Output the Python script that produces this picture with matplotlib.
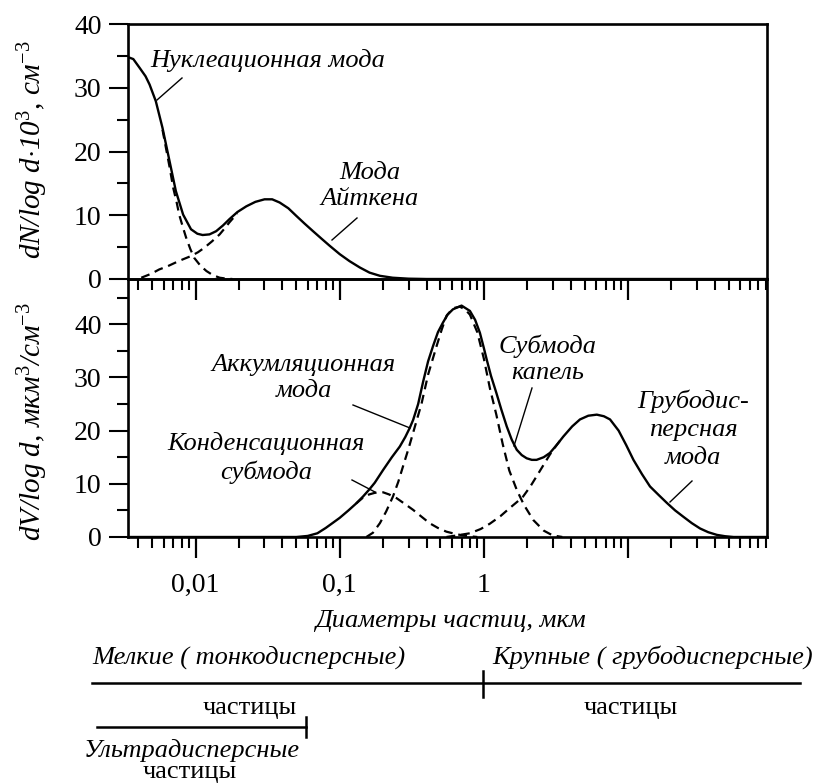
import matplotlib
matplotlib.use("Agg")
import matplotlib.pyplot as plt
from matplotlib.lines import Line2D
from matplotlib.ticker import FixedLocator, FixedFormatter, LogLocator, NullFormatter, MultipleLocator

plt.rcParams["font.family"] = ["Liberation Serif", "DejaVu Serif"]
plt.rcParams["mathtext.fontset"] = "custom"
plt.rcParams["mathtext.rm"] = "Liberation Serif"
plt.rcParams["mathtext.it"] = "Liberation Serif:italic"

W, H = 827, 783

# --- Top panel: number distribution, dN/log d * 10^3 (d in um) ---
num_d = [0.0034, 0.0037, 0.0041, 0.0045, 0.0048, 0.0053, 0.0059, 0.0066, 0.0073,
         0.0082, 0.0093, 0.0103, 0.0112, 0.0125, 0.0139, 0.0155, 0.0172, 0.0195,
         0.0225, 0.026, 0.0301, 0.034, 0.0383, 0.044, 0.050, 0.057, 0.0653, 0.075,
         0.0853, 0.10, 0.117, 0.138, 0.161, 0.19, 0.233, 0.30, 0.40, 92]
num_total = [34.8, 34.5, 33.1, 31.8, 30.5, 27.9, 23.7, 18.5, 13.8,
             10.1, 7.8, 7.1, 6.9, 7.0, 7.5, 8.4, 9.4, 10.5,
             11.4, 12.1, 12.5, 12.5, 12.0, 11.1, 9.9, 8.7, 7.5, 6.3,
             5.2, 3.9, 2.8, 1.8, 1.0, 0.5, 0.2, 0.05, 0, 0]

nucl_d = [0.0059, 0.0066, 0.0070, 0.0074, 0.0077, 0.0082, 0.0086, 0.0092, 0.0098,
          0.0108, 0.0119, 0.0132, 0.0147, 0.0165, 0.018]
nucl = [23.4, 17.6, 14.3, 12.0, 10.1, 8.0, 6.5, 4.7, 3.3, 2.1, 1.25, 0.6, 0.2, 0.05, 0]

aitken_d = [0.0042, 0.0049, 0.0056, 0.0064, 0.0073, 0.0082, 0.0093, 0.0104, 0.0115,
            0.013, 0.0147, 0.016, 0.0172, 0.0195]
aitken = [0.2, 0.8, 1.5, 2.0, 2.6, 3.1, 3.6, 4.2, 4.9, 5.9, 7.0, 8.0, 8.9, 10.3]

# --- Bottom panel: volume distribution, dV/log d ---
vol_d = [0.0034, 0.05, 0.06, 0.07, 0.08, 0.09, 0.10, 0.115, 0.13, 0.145, 0.16, 0.175,
         0.20, 0.23, 0.261, 0.285, 0.306, 0.323, 0.35, 0.379, 0.41, 0.444, 0.48, 0.52,
         0.56, 0.61, 0.70, 0.80, 0.87, 0.938, 1.0, 1.045, 1.12, 1.22, 1.32, 1.44, 1.56,
         1.69, 1.83, 1.98, 2.15, 2.32, 2.6, 2.87, 3.2, 3.56, 4.1, 4.64, 5.3, 6.07, 6.8,
         7.5, 8.6, 9.7, 10.9, 12.5, 14.2, 16.3, 18.6, 21.2, 24.2, 27.7, 31.6, 36, 41.3,
         47, 54, 92]
vol_total = [0, 0, 0.2, 0.7, 1.7, 2.7, 3.6, 5.0, 6.3, 7.6, 8.9, 10.2,
             12.6, 15.0, 17.0, 18.8, 20.5, 22.0, 25.0, 29.2, 33.0, 35.9, 38.5, 40.3,
             41.8, 42.8, 43.5, 42.5, 40.8, 38.4, 35.5, 33.4, 30.3, 27.1, 24.0, 20.8, 18.3,
             16.4, 15.4, 14.8, 14.5, 14.5, 15.0, 15.8, 17.3, 18.9, 20.8, 22.1, 22.8, 23.0, 22.7,
             22.1, 20.0, 17.3, 14.5, 11.8, 9.5, 7.9, 6.4, 5.0, 3.8, 2.6, 1.6, 0.9, 0.4,
             0.15, 0, 0]

cond_d = [0.13, 0.145, 0.16, 0.175, 0.19, 0.20, 0.22, 0.248, 0.28, 0.323, 0.37, 0.42,
          0.48, 0.55, 0.65, 0.76, 0.9]
cond = [6.3, 7.4, 8.0, 8.3, 8.4, 8.4, 8.0, 7.3, 6.3, 5.1, 3.8, 2.6, 1.7, 1.0, 0.5, 0.2, 0]

drop_d = [0.153, 0.17, 0.19, 0.21, 0.234, 0.255, 0.275, 0.30, 0.323, 0.345, 0.369, 0.41,
          0.47, 0.51, 0.551, 0.61, 0.68, 0.74, 0.80, 0.90, 1.0, 1.10, 1.22, 1.35, 1.5,
          1.7, 1.9, 2.2, 2.6, 3.0, 3.5]
drop = [0, 0.8, 2.6, 4.8, 7.6, 10.4, 13.3, 16.6, 19.6, 22.3, 25.0, 30.5,
        35.9, 39.0, 41.6, 43.0, 43.3, 42.8, 41.8, 38.5, 33.5, 28.0, 23.0, 17.5, 12.5,
        8.7, 6.0, 3.2, 1.2, 0.3, 0]

coarse_d = [0.55, 0.65, 0.8, 0.95, 1.1, 1.3, 1.52, 1.7, 1.87, 2.1, 2.32, 2.6, 2.87, 3.2, 3.56]
coarse = [0, 0.3, 0.7, 1.5, 2.5, 3.9, 5.5, 6.6, 7.6, 9.5, 11.4, 13.6, 15.5, 17.3, 18.9]

x_major = [0.01, 0.1, 1, 10]
x_major_labels = ["0,01", "0,1", "1", ""]

XLIM = (0.0034, 92)
SOLID = dict(color="black", lw=1.7, solid_joinstyle="round", solid_capstyle="round")
DASH = dict(color="black", lw=1.6, linestyle=(0, (4, 2.6)))
ANN = dict(fontsize=19, style="italic")


def fx(x):
    return x / W


def fy(y):
    return 1 - y / H


def line(fig, x1, y1, x2, y2, lw=1.0):
    fig.add_artist(Line2D([fx(x1), fx(x2)], [fy(y1), fy(y2)],
                          transform=fig.transFigure, color="black", lw=lw))


def style_axis(ax, ymax):
    ax.set_xscale("log")
    ax.set_xlim(*XLIM)
    ax.set_ylim(0, ymax)
    ax.xaxis.set_major_locator(FixedLocator(x_major))
    ax.xaxis.set_minor_locator(LogLocator(base=10, subs=range(2, 10), numticks=20))
    ax.xaxis.set_minor_formatter(NullFormatter())
    ax.yaxis.set_major_locator(MultipleLocator(10))
    ax.yaxis.set_minor_locator(MultipleLocator(5))
    for s in ax.spines.values():
        s.set_linewidth(1.9)
    ax.tick_params(axis="y", which="major", direction="out", length=14, width=1.5,
                   labelsize=20, pad=5)
    ax.tick_params(axis="y", which="minor", direction="out", length=8, width=1.5)
    ax.tick_params(axis="x", which="major", direction="out", length=15, width=1.6,
                   labelsize=20, pad=11)
    ax.tick_params(axis="x", which="minor", direction="out", length=8, width=1.5)


fig = plt.figure(figsize=(W / 100, H / 100), dpi=100)
left, width = fx(128), (767 - 128) / W
ax_top = fig.add_axes([left, 1 - 279 / H, width, 255 / H])
ax_bot = fig.add_axes([left, 1 - 537 / H, width, 258 / H])
ax_bot.patch.set_visible(False)
ax_top.set_zorder(2)
ax_top.patch.set_visible(False)

style_axis(ax_top, 40)
style_axis(ax_bot, 48.5)
ax_top.xaxis.set_major_formatter(NullFormatter())
ax_bot.xaxis.set_major_formatter(FixedFormatter(x_major_labels))
ax_bot.yaxis.set_major_locator(FixedLocator([0, 10, 20, 30, 40]))

# curves
ax_top.plot(num_d, num_total, **SOLID)
ax_top.plot(nucl_d, nucl, **DASH)
ax_top.plot(aitken_d, aitken, **DASH)

ax_bot.plot(vol_d, vol_total, **SOLID)
ax_bot.plot(cond_d, cond, **DASH)
ax_bot.plot(drop_d, drop, **DASH)
ax_bot.plot(coarse_d, coarse, **DASH)

# y labels
fig.text(fx(33), fy(150), r"dN/log d$\cdot$10$^3$, см$^{-3}$", rotation=90,
         ha="center", va="center", fontsize=21, style="italic")
fig.text(fx(33), fy(422), r"dV/log d, мкм$^3$/см$^{-3}$", rotation=90,
         ha="center", va="center", fontsize=21, style="italic")

# mode labels with leader lines
fig.text(fx(150), fy(60), "Нуклеационная мода", ha="left", va="center", **ANN)
line(fig, 157, 100, 182, 78)
fig.text(fx(370), fy(186), "Мода\nАйткена", ha="center", va="center",
         linespacing=1.25, **ANN)
line(fig, 332, 240, 357, 218)
fig.text(fx(304), fy(378), "Аккумляционная\nмода", ha="center", va="center",
         linespacing=1.25, **ANN)
line(fig, 353, 405, 410, 428)
fig.text(fx(266), fy(458), "Конденсационная\nсубмода", ha="center", va="center",
         linespacing=1.25, **ANN)
line(fig, 352, 480, 375, 492)
fig.text(fx(548), fy(359), "Субмода\nкапель", ha="center", va="center",
         linespacing=1.25, **ANN)
line(fig, 532, 388, 514, 446)
fig.text(fx(693), fy(429), "Грубодис-\nперсная\nмода", ha="center", va="center",
         linespacing=1.35, **ANN)
line(fig, 670, 502, 692, 481)

# size classes under the axis
fig.text(fx(450), fy(621), "Диаметры частиц, мкм", ha="center", va="center", **ANN)
fig.text(fx(92), fy(657), "Мелкие ( тонкодисперсные)", ha="left", va="center", **ANN)
fig.text(fx(492), fy(657), "Крупные ( грубодисперсные)", ha="left", va="center", **ANN)
line(fig, 92, 683, 800, 683, lw=1.8)
line(fig, 483, 671, 483, 697, lw=1.8)
fig.text(fx(250), fy(708), "частицы", ha="center", va="center", fontsize=19)
fig.text(fx(631), fy(708), "частицы", ha="center", va="center", fontsize=19)
line(fig, 97, 727, 306, 727, lw=1.8)
line(fig, 306, 717, 306, 737, lw=1.8)
fig.text(fx(192), fy(750), "Ультрадисперсные", ha="center", va="center", **ANN)
fig.text(fx(190), fy(772), "частицы", ha="center", va="center", fontsize=19)

fig.savefig("out.png", dpi=100)
